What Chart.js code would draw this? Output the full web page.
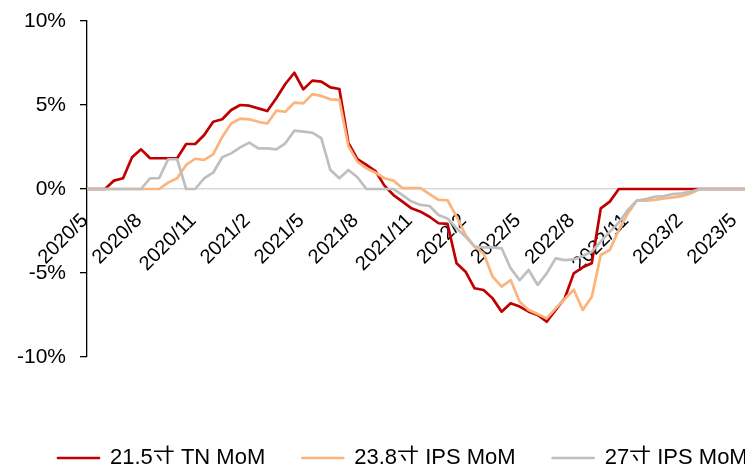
<!DOCTYPE html>
<html>
<head>
<meta charset="utf-8">
<script src="https://cdn.jsdelivr.net/npm/chart.js@4.4.1/dist/chart.umd.min.js"></script>
<style>
html,body{margin:0;padding:0;background:#fff;overflow:hidden;width:745px;height:464px}
#wrap{position:relative;width:800px;height:479px}
</style>
</head>
<body>
<div id="wrap"><canvas id="c"></canvas></div>
<script>
// Series names (legend)
const seriesNames = ['21.5寸 TN MoM', '23.8寸 IPS MoM', '27寸 IPS MoM'];

// Tick labels shown on the x axis (every 3 months)
const tickLabels = ['2020/5','2020/8','2020/11','2021/2','2021/5','2021/8','2021/11',
                    '2022/2','2022/5','2022/8','2022/11','2023/2','2023/5'];

// Semi-monthly periods (first half "上", second half "下"), 2020/5 – 2023/5
const periods = [];
for (let y = 2020, m = 5; y < 2023 || (y === 2023 && m <= 5); m++) {
  if (m > 12) { m = 1; y++; if (y === 2023 && m > 5) break; }
  periods.push(y + '/' + m + '上');
  periods.push(y + '/' + m + '下');
}

// MoM change (%)
const tn215 = [0,0,0,0.5,0.64,1.89,2.36,1.83,1.83,1.83,
  1.83,2.68,2.68,3.21,4.0,4.15,4.7,5.0,4.96,4.8,
  4.64,5.4,6.25,6.92,5.93,6.45,6.39,6.05,5.95,2.75,
  1.77,1.43,1.07,0.2,-0.36,-0.75,-1.15,-1.35,-1.65,-2.04,
  -2.08,-4.42,-4.92,-5.91,-6.01,-6.51,-7.3,-6.8,-7.0,-7.3,
  -7.5,-7.9,-7.2,-6.5,-5.02,-4.66,-4.42,-1.15,-0.75,0,
  0,0,0,0,0,0,0,0,0,0,
  0,0,0,0];
const ips238 = [0,0,0,0,0,0,0,0,0,0.38,
  0.64,1.43,1.8,1.73,2.06,3.1,3.9,4.19,4.15,4.0,
  3.9,4.66,4.6,5.14,5.1,5.65,5.54,5.34,5.3,2.55,
  1.63,1.23,0.97,0.64,0.5,0.05,0.05,0.05,-0.3,-0.65,
  -0.67,-1.65,-2.74,-3.43,-3.83,-5.22,-5.81,-5.42,-6.71,-7.2,
  -7.44,-7.7,-7.1,-6.55,-6.0,-7.2,-6.41,-3.93,-3.63,-2.44,
  -1.45,-0.69,-0.69,-0.65,-0.56,-0.5,-0.42,-0.26,0,0,
  0,0,0,0];
const ips27 = [0,0,0,0,0,0,0,0.64,0.64,1.77,
  1.77,0,0,0.64,0.97,1.89,2.12,2.48,2.76,2.42,
  2.42,2.36,2.72,3.47,3.41,3.35,3.02,1.13,0.64,1.13,
  0.7,0,0,0,0,-0.36,-0.75,-0.95,-1.01,-1.55,
  -1.75,-2.34,-2.84,-3.43,-3.47,-3.47,-3.53,-4.72,-5.42,-4.82,
  -5.71,-5.02,-4.13,-4.23,-4.19,-3.99,-3.73,-3.13,-2.54,-2.0,
  -1.25,-0.69,-0.6,-0.46,-0.42,-0.3,-0.26,-0.16,0,0,
  0,0,0,0];

const yTicks = [-10, -5, 0, 5, 10];

const FONT = "'Liberation Sans', Arial, 'Noto Sans CJK SC', sans-serif";

const legendShift = {
  id: 'legendShift',
  afterLayout(chart) {
    const l = chart.legend;
    if (l) { l.left += 21; l.right += 21; }
  }
};

new Chart(document.getElementById('c'), {
  type: 'line',
  data: {
    labels: periods,
    datasets: [
      { label: seriesNames[0], data: tn215, borderColor: '#C00000', backgroundColor: '#C00000', order: 3 },
      { label: seriesNames[1], data: ips238, borderColor: '#FAB47C', backgroundColor: '#FAB47C', order: 2 },
      { label: seriesNames[2], data: ips27, borderColor: '#BFBFBF', backgroundColor: '#BFBFBF', order: 1 }
    ]
  },
  options: {
    responsive: true,
    maintainAspectRatio: false,
    animation: false,
    devicePixelRatio: 1,
    layout: { padding: { top: 21, left: 0, right: 0, bottom: 0 } },
    elements: {
      line: { borderWidth: 2.7, tension: 0, fill: false, borderJoinStyle: 'round' },
      point: { radius: 0 }
    },
    plugins: {
      tooltip: { enabled: false },
      legend: {
        position: 'bottom',
        align: 'start',
        title: { display: true, text: ' ', font: { size: 10 }, padding: { top: 41, bottom: 0 } },
        labels: {
          boxWidth: 41,
          boxHeight: 0,
          padding: 37,
          color: '#000',
          font: { family: FONT, size: 22 },
          sort: (a, b) => a.datasetIndex - b.datasetIndex
        }
      }
    },
    scales: {
      x: {
        type: 'category',
        position: { y: 0 },
        afterFit(s) { s.paddingLeft = 0; s.paddingRight = 55; },
        grid: { display: true, drawOnChartArea: false, drawTicks: false },
        border: { display: true, color: '#D9D9D9', width: 1.5 },
        ticks: {
          autoSkip: false,
          minRotation: 45,
          maxRotation: 45,
          padding: 20,
          labelOffset: -2,
          color: '#000',
          font: { family: FONT, size: 20 },
          callback: (v, i) => (i % 6 === 0 ? tickLabels[i / 6] : '')
        }
      },
      y: {
        min: -10,
        max: 10,
        afterFit(s) { s.width = 87; s.paddingTop = 0; s.paddingBottom = 0; },
        afterBuildTicks(s) { s.ticks = yTicks.map(v => ({ value: v })); },
        grid: { drawOnChartArea: false, drawTicks: true, tickLength: 7, color: '#000', lineWidth: 1.3 },
        border: { display: true, color: '#000', width: 1.3 },
        ticks: {
          padding: 14,
          color: '#000',
          font: { family: FONT, size: 21 },
          callback: v => v + '%'
        }
      }
    }
  },
  plugins: [legendShift]
});
</script>
</body>
</html>
